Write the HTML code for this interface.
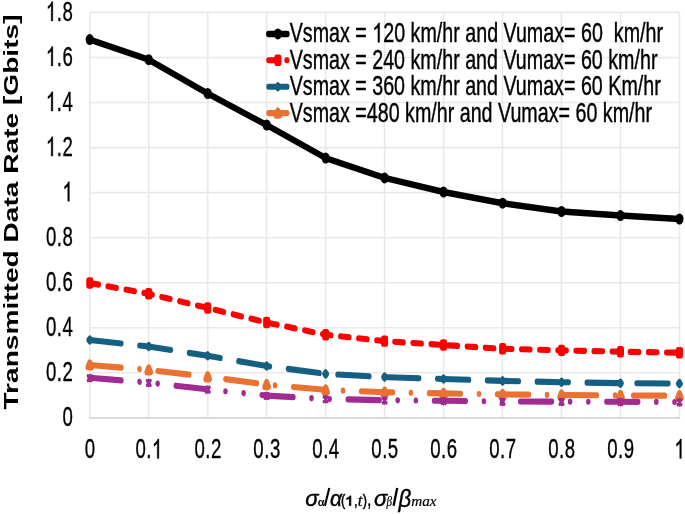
<!DOCTYPE html>
<html><head><meta charset="utf-8"><title>Chart</title>
<style>html,body{margin:0;padding:0;background:#fff}body{width:685px;height:514px;overflow:hidden;font-family:"Liberation Sans",sans-serif}</style>
</head><body>
<svg width="685" height="514" viewBox="0 0 685 514" style="display:block;filter:blur(0.45px)">
<rect width="685" height="514" fill="#fff"/>
<defs><path id="g1" vector-effect="non-scaling-stroke" d="M763,0H583V1147Q518,1085 412.5,1023Q307,961 223,930V1104Q374,1175 487,1276Q600,1377 647,1472H763Z"/></defs>
<path d="M89.8,12.4H679.5M89.8,57.5H679.5M89.8,102.5H679.5M89.8,147.6H679.5M89.8,192.6H679.5M89.8,237.7H679.5M89.8,282.7H679.5M89.8,327.8H679.5M89.8,372.8H679.5M89.8,417.9H679.5M89.8,12.4V417.9M148.7,12.4V417.9M207.7,12.4V417.9M266.7,12.4V417.9M325.6,12.4V417.9M384.6,12.4V417.9M443.6,12.4V417.9M502.5,12.4V417.9M561.5,12.4V417.9M620.5,12.4V417.9M679.5,12.4V417.9" stroke="#e9e9e9" stroke-width="1.6" fill="none"/>
<path d="M89.0,417.9H680.2" stroke="#d8d8d8" stroke-width="1.7" fill="none"/>
<g transform="scale(0.75,1)">
<polyline points="119.7,39.6 198.3,59.7 276.9,93.5 355.5,125.0 434.2,158.1 512.8,177.9 591.4,192.0 670.1,203.2 748.7,211.5 827.3,215.6 905.9,219.0" fill="none" stroke="#000000" stroke-width="6.5" stroke-linecap="round" stroke-linejoin="round"/>
<circle cx="119.7" cy="39.6" r="5.5" fill="#000000"/>
<circle cx="198.3" cy="59.7" r="5.5" fill="#000000"/>
<circle cx="276.9" cy="93.5" r="5.5" fill="#000000"/>
<circle cx="355.5" cy="125.0" r="5.5" fill="#000000"/>
<circle cx="434.2" cy="158.1" r="5.5" fill="#000000"/>
<circle cx="512.8" cy="177.9" r="5.5" fill="#000000"/>
<circle cx="591.4" cy="192.0" r="5.5" fill="#000000"/>
<circle cx="670.1" cy="203.2" r="5.5" fill="#000000"/>
<circle cx="748.7" cy="211.5" r="5.5" fill="#000000"/>
<circle cx="827.3" cy="215.6" r="5.5" fill="#000000"/>
<circle cx="905.9" cy="219.0" r="5.5" fill="#000000"/>
<polyline points="119.7,283.0 198.3,293.8 276.9,308.0 355.5,322.5 434.2,334.7 512.8,341.1 591.4,345.0 670.1,348.8 748.7,350.4 827.3,351.7 905.9,352.7" fill="none" stroke="#FF0000" stroke-width="6.1" stroke-linecap="round" stroke-linejoin="round" stroke-dasharray="12.03 12.14"/>
<rect x="117.6" y="279.9" width="4.2" height="6.2" fill="#FF0000" stroke="#FF0000" stroke-width="5.2" stroke-linejoin="round"/>
<rect x="196.2" y="290.7" width="4.2" height="6.2" fill="#FF0000" stroke="#FF0000" stroke-width="5.2" stroke-linejoin="round"/>
<rect x="274.8" y="304.9" width="4.2" height="6.2" fill="#FF0000" stroke="#FF0000" stroke-width="5.2" stroke-linejoin="round"/>
<rect x="353.4" y="319.4" width="4.2" height="6.2" fill="#FF0000" stroke="#FF0000" stroke-width="5.2" stroke-linejoin="round"/>
<rect x="432.1" y="331.6" width="4.2" height="6.2" fill="#FF0000" stroke="#FF0000" stroke-width="5.2" stroke-linejoin="round"/>
<rect x="510.7" y="338.0" width="4.2" height="6.2" fill="#FF0000" stroke="#FF0000" stroke-width="5.2" stroke-linejoin="round"/>
<rect x="589.3" y="341.9" width="4.2" height="6.2" fill="#FF0000" stroke="#FF0000" stroke-width="5.2" stroke-linejoin="round"/>
<rect x="668.0" y="345.7" width="4.2" height="6.2" fill="#FF0000" stroke="#FF0000" stroke-width="5.2" stroke-linejoin="round"/>
<rect x="746.6" y="347.3" width="4.2" height="6.2" fill="#FF0000" stroke="#FF0000" stroke-width="5.2" stroke-linejoin="round"/>
<rect x="825.2" y="348.6" width="4.2" height="6.2" fill="#FF0000" stroke="#FF0000" stroke-width="5.2" stroke-linejoin="round"/>
<rect x="903.8" y="349.6" width="4.2" height="6.2" fill="#FF0000" stroke="#FF0000" stroke-width="5.2" stroke-linejoin="round"/>
<polyline points="119.7,340.0 198.3,346.5 276.9,355.8 355.5,366.0 434.2,373.9 512.8,377.1 591.4,379.0 670.1,380.9 748.7,382.2 827.3,383.2 905.9,383.6" fill="none" stroke="#156082" stroke-width="6.1" stroke-linecap="round" stroke-linejoin="round" stroke-dasharray="42.24 24.23"/>
<path d="M118.0,340.0 L119.7,338.3 L121.4,340.0 L119.7,341.7Z" fill="#156082" stroke="#156082" stroke-width="5.8" stroke-linejoin="round"/>
<path d="M196.6,346.5 L198.3,344.8 L200.0,346.5 L198.3,348.2Z" fill="#156082" stroke="#156082" stroke-width="5.8" stroke-linejoin="round"/>
<path d="M275.2,355.8 L276.9,354.1 L278.6,355.8 L276.9,357.5Z" fill="#156082" stroke="#156082" stroke-width="5.8" stroke-linejoin="round"/>
<path d="M353.8,366.0 L355.5,364.3 L357.2,366.0 L355.5,367.7Z" fill="#156082" stroke="#156082" stroke-width="5.8" stroke-linejoin="round"/>
<path d="M432.5,373.9 L434.2,372.2 L435.9,373.9 L434.2,375.6Z" fill="#156082" stroke="#156082" stroke-width="5.8" stroke-linejoin="round"/>
<path d="M511.1,377.1 L512.8,375.4 L514.5,377.1 L512.8,378.8Z" fill="#156082" stroke="#156082" stroke-width="5.8" stroke-linejoin="round"/>
<path d="M589.7,379.0 L591.4,377.3 L593.1,379.0 L591.4,380.7Z" fill="#156082" stroke="#156082" stroke-width="5.8" stroke-linejoin="round"/>
<path d="M668.4,380.9 L670.1,379.2 L671.8,380.9 L670.1,382.6Z" fill="#156082" stroke="#156082" stroke-width="5.8" stroke-linejoin="round"/>
<path d="M747.0,382.2 L748.7,380.5 L750.4,382.2 L748.7,383.9Z" fill="#156082" stroke="#156082" stroke-width="5.8" stroke-linejoin="round"/>
<path d="M825.6,383.2 L827.3,381.5 L829.0,383.2 L827.3,384.9Z" fill="#156082" stroke="#156082" stroke-width="5.8" stroke-linejoin="round"/>
<path d="M904.2,383.6 L905.9,381.9 L907.6,383.6 L905.9,385.3Z" fill="#156082" stroke="#156082" stroke-width="5.8" stroke-linejoin="round"/>
<polyline points="119.7,365.0 198.3,369.9 276.9,376.8 355.5,384.6 434.2,389.9 512.8,392.2 591.4,393.4 670.1,394.4 748.7,395.0 827.3,395.4 905.9,395.7" fill="none" stroke="#E97132" stroke-width="6.1" stroke-linecap="round" stroke-linejoin="round" stroke-dasharray="42.24 24.23 0.01 24.23"/>
<path d="M117.5,367.1 L119.7,362.9 L121.9,367.1Z" fill="#E97132" stroke="#E97132" stroke-width="7.0" stroke-linejoin="round"/>
<path d="M196.1,372.0 L198.3,367.8 L200.5,372.0Z" fill="#E97132" stroke="#E97132" stroke-width="7.0" stroke-linejoin="round"/>
<path d="M274.7,378.9 L276.9,374.7 L279.1,378.9Z" fill="#E97132" stroke="#E97132" stroke-width="7.0" stroke-linejoin="round"/>
<path d="M353.3,386.7 L355.5,382.5 L357.7,386.7Z" fill="#E97132" stroke="#E97132" stroke-width="7.0" stroke-linejoin="round"/>
<path d="M432.0,392.0 L434.2,387.8 L436.4,392.0Z" fill="#E97132" stroke="#E97132" stroke-width="7.0" stroke-linejoin="round"/>
<path d="M510.6,394.3 L512.8,390.1 L515.0,394.3Z" fill="#E97132" stroke="#E97132" stroke-width="7.0" stroke-linejoin="round"/>
<path d="M589.2,395.5 L591.4,391.3 L593.6,395.5Z" fill="#E97132" stroke="#E97132" stroke-width="7.0" stroke-linejoin="round"/>
<path d="M667.9,396.5 L670.1,392.3 L672.3,396.5Z" fill="#E97132" stroke="#E97132" stroke-width="7.0" stroke-linejoin="round"/>
<path d="M746.5,397.1 L748.7,392.9 L750.9,397.1Z" fill="#E97132" stroke="#E97132" stroke-width="7.0" stroke-linejoin="round"/>
<path d="M825.1,397.5 L827.3,393.3 L829.5,397.5Z" fill="#E97132" stroke="#E97132" stroke-width="7.0" stroke-linejoin="round"/>
<path d="M903.7,397.8 L905.9,393.6 L908.1,397.8Z" fill="#E97132" stroke="#E97132" stroke-width="7.0" stroke-linejoin="round"/>
<polyline points="119.7,377.8 198.3,382.6 276.9,389.3 355.5,395.6 434.2,398.9 512.8,400.2 591.4,400.8 670.1,401.5 748.7,401.6 827.3,401.8 905.9,402.0" fill="none" stroke="#A02B93" stroke-width="6.1" stroke-linecap="round" stroke-linejoin="round" stroke-dasharray="42.24 24.23 0.01 24.23 0.01 24.23"/>
<path d="M117.2,375.7 L122.1,380.5 M117.2,380.5 L122.1,375.7 M119.7,375.4 L119.7,380.8" stroke="#A02B93" stroke-width="3.3" stroke-linecap="round" fill="none"/>
<path d="M195.9,380.5 L200.7,385.3 M195.9,385.3 L200.7,380.5 M198.3,380.2 L198.3,385.6" stroke="#A02B93" stroke-width="3.3" stroke-linecap="round" fill="none"/>
<path d="M274.5,387.2 L279.4,392.0 M274.5,392.0 L279.4,387.2 M276.9,386.9 L276.9,392.3" stroke="#A02B93" stroke-width="3.3" stroke-linecap="round" fill="none"/>
<path d="M353.1,393.5 L358.0,398.3 M353.1,398.3 L358.0,393.5 M355.5,393.2 L355.5,398.6" stroke="#A02B93" stroke-width="3.3" stroke-linecap="round" fill="none"/>
<path d="M431.7,396.8 L436.6,401.6 M431.7,401.6 L436.6,396.8 M434.2,396.5 L434.2,401.9" stroke="#A02B93" stroke-width="3.3" stroke-linecap="round" fill="none"/>
<path d="M510.4,398.1 L515.2,402.9 M510.4,402.9 L515.2,398.1 M512.8,397.8 L512.8,403.2" stroke="#A02B93" stroke-width="3.3" stroke-linecap="round" fill="none"/>
<path d="M589.0,398.7 L593.9,403.5 M589.0,403.5 L593.9,398.7 M591.4,398.4 L591.4,403.8" stroke="#A02B93" stroke-width="3.3" stroke-linecap="round" fill="none"/>
<path d="M667.6,399.4 L672.5,404.2 M667.6,404.2 L672.5,399.4 M670.1,399.1 L670.1,404.5" stroke="#A02B93" stroke-width="3.3" stroke-linecap="round" fill="none"/>
<path d="M746.2,399.5 L751.1,404.3 M746.2,404.3 L751.1,399.5 M748.7,399.2 L748.7,404.6" stroke="#A02B93" stroke-width="3.3" stroke-linecap="round" fill="none"/>
<path d="M824.9,399.7 L829.7,404.5 M824.9,404.5 L829.7,399.7 M827.3,399.4 L827.3,404.8" stroke="#A02B93" stroke-width="3.3" stroke-linecap="round" fill="none"/>
<path d="M903.5,399.9 L908.4,404.7 M903.5,404.7 L908.4,399.9 M905.9,399.6 L905.9,405.0" stroke="#A02B93" stroke-width="3.3" stroke-linecap="round" fill="none"/>
<path d="M358.0,33.9H382.9" stroke="#000000" stroke-width="6.5" stroke-linecap="round" fill="none"/>
<circle cx="370.5" cy="33.9" r="5.5" fill="#000000"/>
<path d="M358.0,60.3H382.9" stroke="#FF0000" stroke-width="6.1" stroke-linecap="round" fill="none" stroke-dasharray="12.03 12.14"/>
<rect x="368.4" y="57.2" width="4.2" height="6.2" fill="#FF0000" stroke="#FF0000" stroke-width="5.2" stroke-linejoin="round"/>
<path d="M358.0,86.7H382.9" stroke="#156082" stroke-width="6.1" stroke-linecap="round" fill="none" stroke-dasharray="42.24 24.23"/>
<path d="M368.8,86.7 L370.5,85.0 L372.2,86.7 L370.5,88.4Z" fill="#156082" stroke="#156082" stroke-width="5.8" stroke-linejoin="round"/>
<path d="M358.0,113.1H382.9" stroke="#E97132" stroke-width="6.1" stroke-linecap="round" fill="none" stroke-dasharray="42.24 24.23 0.01 24.23"/>
<path d="M368.3,115.2 L370.5,111.0 L372.7,115.2Z" fill="#E97132" stroke="#E97132" stroke-width="7.0" stroke-linejoin="round"/>
</g>
<text transform="translate(289.7,42.3) scale(0.7292,1)" font-size="27" font-family="Liberation Sans, sans-serif" fill="#000" stroke="#000" stroke-width="0.4" xml:space="preserve">Vsmax = </text>
<use href="#g1" transform="translate(372.30,42.30) scale(0.00961,-0.01318)" fill="#000" stroke="#000" stroke-width="0.4" vector-effect="non-scaling-stroke"/>
<text transform="translate(383.25,42.3) scale(0.7292,1)" font-size="27" font-family="Liberation Sans, sans-serif" fill="#000" stroke="#000" stroke-width="0.4" xml:space="preserve">20 km/hr and Vumax= 60  km/hr</text>
<text transform="translate(289.7,68.7) scale(0.7292,1)" font-size="27" font-family="Liberation Sans, sans-serif" fill="#000" stroke="#000" stroke-width="0.4" xml:space="preserve">Vsmax = 240 km/hr and Vumax= 60 km/hr</text>
<text transform="translate(289.7,95.1) scale(0.7292,1)" font-size="27" font-family="Liberation Sans, sans-serif" fill="#000" stroke="#000" stroke-width="0.4" xml:space="preserve">Vsmax = 360 km/hr and Vumax= 60 Km/hr</text>
<text transform="translate(289.7,121.5) scale(0.7292,1)" font-size="27" font-family="Liberation Sans, sans-serif" fill="#000" stroke="#000" stroke-width="0.4" xml:space="preserve">Vsmax =480 km/hr and Vumax= 60 km/hr</text>
<use href="#g1" transform="translate(45.90,20.95) scale(0.00910,-0.01318)" fill="#000" stroke="#000" stroke-width="0.35" vector-effect="non-scaling-stroke"/>
<text transform="translate(73.3,20.9) scale(0.69,1)" text-anchor="end" letter-spacing="0.72" font-size="27" font-family="Liberation Sans, sans-serif" fill="#000" stroke="#000" stroke-width="0.35">.8</text>
<use href="#g1" transform="translate(45.90,66.00) scale(0.00910,-0.01318)" fill="#000" stroke="#000" stroke-width="0.35" vector-effect="non-scaling-stroke"/>
<text transform="translate(73.3,66.0) scale(0.69,1)" text-anchor="end" letter-spacing="0.72" font-size="27" font-family="Liberation Sans, sans-serif" fill="#000" stroke="#000" stroke-width="0.35">.6</text>
<use href="#g1" transform="translate(45.90,111.05) scale(0.00910,-0.01318)" fill="#000" stroke="#000" stroke-width="0.35" vector-effect="non-scaling-stroke"/>
<text transform="translate(73.3,111.0) scale(0.69,1)" text-anchor="end" letter-spacing="0.72" font-size="27" font-family="Liberation Sans, sans-serif" fill="#000" stroke="#000" stroke-width="0.35">.4</text>
<use href="#g1" transform="translate(45.90,156.10) scale(0.00910,-0.01318)" fill="#000" stroke="#000" stroke-width="0.35" vector-effect="non-scaling-stroke"/>
<text transform="translate(73.3,156.1) scale(0.69,1)" text-anchor="end" letter-spacing="0.72" font-size="27" font-family="Liberation Sans, sans-serif" fill="#000" stroke="#000" stroke-width="0.35">.2</text>
<use href="#g1" transform="translate(62.44,201.15) scale(0.00910,-0.01318)" fill="#000" stroke="#000" stroke-width="0.35" vector-effect="non-scaling-stroke"/>
<text transform="translate(73.3,246.2) scale(0.69,1)" text-anchor="end" letter-spacing="0.72" font-size="27" font-family="Liberation Sans, sans-serif" fill="#000" stroke="#000" stroke-width="0.35">0.8</text>
<text transform="translate(73.3,291.2) scale(0.69,1)" text-anchor="end" letter-spacing="0.72" font-size="27" font-family="Liberation Sans, sans-serif" fill="#000" stroke="#000" stroke-width="0.35">0.6</text>
<text transform="translate(73.3,336.3) scale(0.69,1)" text-anchor="end" letter-spacing="0.72" font-size="27" font-family="Liberation Sans, sans-serif" fill="#000" stroke="#000" stroke-width="0.35">0.4</text>
<text transform="translate(73.3,381.3) scale(0.69,1)" text-anchor="end" letter-spacing="0.72" font-size="27" font-family="Liberation Sans, sans-serif" fill="#000" stroke="#000" stroke-width="0.35">0.2</text>
<text transform="translate(73.3,426.4) scale(0.69,1)" text-anchor="end" letter-spacing="0.72" font-size="27" font-family="Liberation Sans, sans-serif" fill="#000" stroke="#000" stroke-width="0.35">0</text>
<text transform="translate(84.72,458.4) scale(0.69,1)" letter-spacing="0.72" font-size="27" font-family="Liberation Sans, sans-serif" fill="#000" stroke="#000" stroke-width="0.35">0</text>
<text transform="translate(135.42,458.4) scale(0.69,1)" letter-spacing="0.72" font-size="27" font-family="Liberation Sans, sans-serif" fill="#000" stroke="#000" stroke-width="0.35">0.</text>
<use href="#g1" transform="translate(151.96,458.40) scale(0.00910,-0.01318)" fill="#000" stroke="#000" stroke-width="0.35" vector-effect="non-scaling-stroke"/>
<text transform="translate(194.39,458.4) scale(0.69,1)" letter-spacing="0.72" font-size="27" font-family="Liberation Sans, sans-serif" fill="#000" stroke="#000" stroke-width="0.35">0.2</text>
<text transform="translate(253.36,458.4) scale(0.69,1)" letter-spacing="0.72" font-size="27" font-family="Liberation Sans, sans-serif" fill="#000" stroke="#000" stroke-width="0.35">0.3</text>
<text transform="translate(312.33,458.4) scale(0.69,1)" letter-spacing="0.72" font-size="27" font-family="Liberation Sans, sans-serif" fill="#000" stroke="#000" stroke-width="0.35">0.4</text>
<text transform="translate(371.30,458.4) scale(0.69,1)" letter-spacing="0.72" font-size="27" font-family="Liberation Sans, sans-serif" fill="#000" stroke="#000" stroke-width="0.35">0.5</text>
<text transform="translate(430.27,458.4) scale(0.69,1)" letter-spacing="0.72" font-size="27" font-family="Liberation Sans, sans-serif" fill="#000" stroke="#000" stroke-width="0.35">0.6</text>
<text transform="translate(489.24,458.4) scale(0.69,1)" letter-spacing="0.72" font-size="27" font-family="Liberation Sans, sans-serif" fill="#000" stroke="#000" stroke-width="0.35">0.7</text>
<text transform="translate(548.21,458.4) scale(0.69,1)" letter-spacing="0.72" font-size="27" font-family="Liberation Sans, sans-serif" fill="#000" stroke="#000" stroke-width="0.35">0.8</text>
<text transform="translate(607.18,458.4) scale(0.69,1)" letter-spacing="0.72" font-size="27" font-family="Liberation Sans, sans-serif" fill="#000" stroke="#000" stroke-width="0.35">0.9</text>
<use href="#g1" transform="translate(674.42,458.40) scale(0.00910,-0.01318)" fill="#000" stroke="#000" stroke-width="0.35" vector-effect="non-scaling-stroke"/>
<text transform="translate(17.7,409.5) rotate(-90) scale(1,0.72)" font-size="28" font-weight="bold" font-family="Liberation Sans, sans-serif" fill="#000" textLength="395" lengthAdjust="spacingAndGlyphs">Transmitted Data Rate [Gbits]</text>
<text transform="translate(305.2,505.5) scale(1.0,1)" font-size="22" font-family="Liberation Sans, sans-serif" font-style="italic" stroke="#000" stroke-width="0.4" fill="#000">σ</text>
<text transform="translate(317.8,505.5) scale(1.0,1)" font-size="11" font-family="Liberation Sans, sans-serif" font-weight="bold" fill="#000">α</text>
<path d="M324.9,505.8 L329.3,488" stroke="#000" stroke-width="2.1" fill="none"/>
<text transform="translate(330.0,505.5) scale(0.96,1)" font-size="22" font-family="Liberation Sans, sans-serif" font-style="italic" stroke="#000" stroke-width="0.4" fill="#000">α</text>
<text transform="translate(341.1,506.2) scale(0.8,1)" font-size="16" font-family="Liberation Sans, sans-serif" stroke="#000" stroke-width="0.5" fill="#000">(</text>
<use href="#g1" transform="translate(345.00,505.60) scale(0.00758,-0.00659)" fill="#000" stroke="#000" stroke-width="0.9" vector-effect="non-scaling-stroke"/>
<text transform="translate(353.9,506.0) scale(0.8,1)" font-size="16.5" font-family="Liberation Sans, sans-serif" stroke="#000" stroke-width="0.4" fill="#000">,</text>
<text transform="translate(357.8,506.0) scale(1.0,1)" font-size="16.5" font-family="Liberation Serif, serif" font-style="italic" stroke="#000" stroke-width="0.3" fill="#000">t</text>
<text transform="translate(362.8,506.2) scale(0.8,1)" font-size="16" font-family="Liberation Sans, sans-serif" stroke="#000" stroke-width="0.5" fill="#000">)</text>
<text transform="translate(366.8,505.8) scale(0.8,1)" font-size="22" font-family="Liberation Sans, sans-serif" stroke="#000" stroke-width="0.2" fill="#000">,</text>
<text transform="translate(374.0,505.5) scale(1.0,1)" font-size="22" font-family="Liberation Sans, sans-serif" font-style="italic" stroke="#000" stroke-width="0.4" fill="#000">σ</text>
<text transform="translate(386.6,506.2) scale(0.8,1)" font-size="14" font-family="Liberation Serif, serif" font-style="italic" stroke="#000" stroke-width="0.2" fill="#000">β</text>
<path d="M393.6,505.8 L397.2,488" stroke="#000" stroke-width="2.3" fill="none"/>
<text transform="translate(398.5,506.6) scale(0.95,1)" font-size="23.5" font-family="Liberation Sans, sans-serif" font-style="italic" stroke="#000" stroke-width="0.4" fill="#000">β</text>
<text transform="translate(411.3,506.0) scale(0.98,1)" font-size="15.5" font-family="Liberation Serif, serif" font-style="italic" stroke="#000" stroke-width="0.2" fill="#000">max</text>
</svg>
</body></html>
